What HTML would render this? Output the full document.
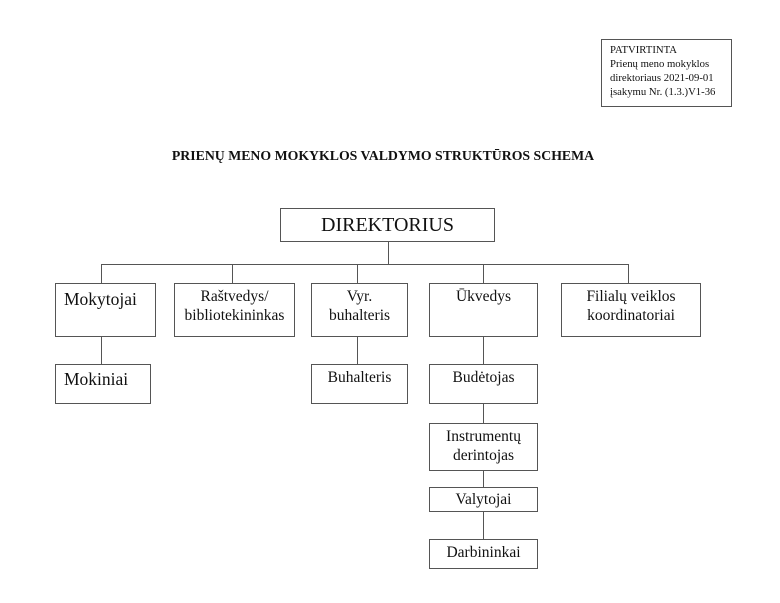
<!DOCTYPE html>
<html><head><meta charset="utf-8"><style>
body{margin:0;width:780px;height:603px;background:#fff;position:relative;overflow:hidden;font-family:"Liberation Serif",serif;color:#111}
.b{position:absolute;border:1px solid #555;box-sizing:border-box;text-align:center;font-size:15.5px;line-height:19px;padding-top:3px;background:#fff;white-space:nowrap}
.l{position:absolute;background:#555}
.h{height:1px}.v{width:1px}
</style></head><body>
<div class="b" style="left:601px;top:39px;width:131px;height:68px;text-align:left;font-size:10.7px;line-height:14px;padding:3px 0 0 8px">PATVIRTINTA<br>Prienų meno mokyklos<br>direktoriaus 2021-09-01<br>įsakymu Nr. (1.3.)V1-36</div>
<div style="position:absolute;left:120px;top:148px;width:526px;text-align:center;font-weight:bold;font-size:13.8px;white-space:nowrap">PRIENŲ MENO MOKYKLOS VALDYMO STRUKTŪROS SCHEMA</div>

<div class="l v" style="left:388px;top:241px;height:23px"></div>
<div class="l h" style="left:101px;top:264px;width:528px"></div>
<div class="l v" style="left:101px;top:264px;height:19px"></div>
<div class="l v" style="left:232px;top:264px;height:19px"></div>
<div class="l v" style="left:357px;top:264px;height:19px"></div>
<div class="l v" style="left:483px;top:264px;height:19px"></div>
<div class="l v" style="left:628px;top:264px;height:19px"></div>
<div class="l v" style="left:101px;top:336px;height:28px"></div>
<div class="l v" style="left:357px;top:336px;height:28px"></div>
<div class="l v" style="left:483px;top:336px;height:232px"></div>

<div class="b" style="left:280px;top:208px;width:215px;height:34px;font-size:20px;line-height:24px;padding-top:4px">DIREKTORIUS</div>
<div class="b" style="left:55px;top:283px;width:101px;height:54px;text-align:left;font-size:17.5px;padding-left:8px;padding-top:6px">Mokytojai</div>
<div class="b" style="left:174px;top:283px;width:121px;height:54px">Raštvedys/<br>bibliotekininkas</div>
<div class="b" style="left:311px;top:283px;width:97px;height:54px">Vyr.<br>buhalteris</div>
<div class="b" style="left:429px;top:283px;width:109px;height:54px">Ūkvedys</div>
<div class="b" style="left:561px;top:283px;width:140px;height:54px">Filialų veiklos<br>koordinatoriai</div>
<div class="b" style="left:55px;top:364px;width:96px;height:40px;text-align:left;font-size:17.5px;padding-left:8px;padding-top:5px">Mokiniai</div>
<div class="b" style="left:311px;top:364px;width:97px;height:40px">Buhalteris</div>
<div class="b" style="left:429px;top:364px;width:109px;height:40px">Budėtojas</div>
<div class="b" style="left:429px;top:423px;width:109px;height:48px;padding-top:3px">Instrumentų<br>derintojas</div>
<div class="b" style="left:429px;top:487px;width:109px;height:25px;padding-top:2px">Valytojai</div>
<div class="b" style="left:429px;top:539px;width:109px;height:30px;padding-top:3px">Darbininkai</div>
</body></html>
